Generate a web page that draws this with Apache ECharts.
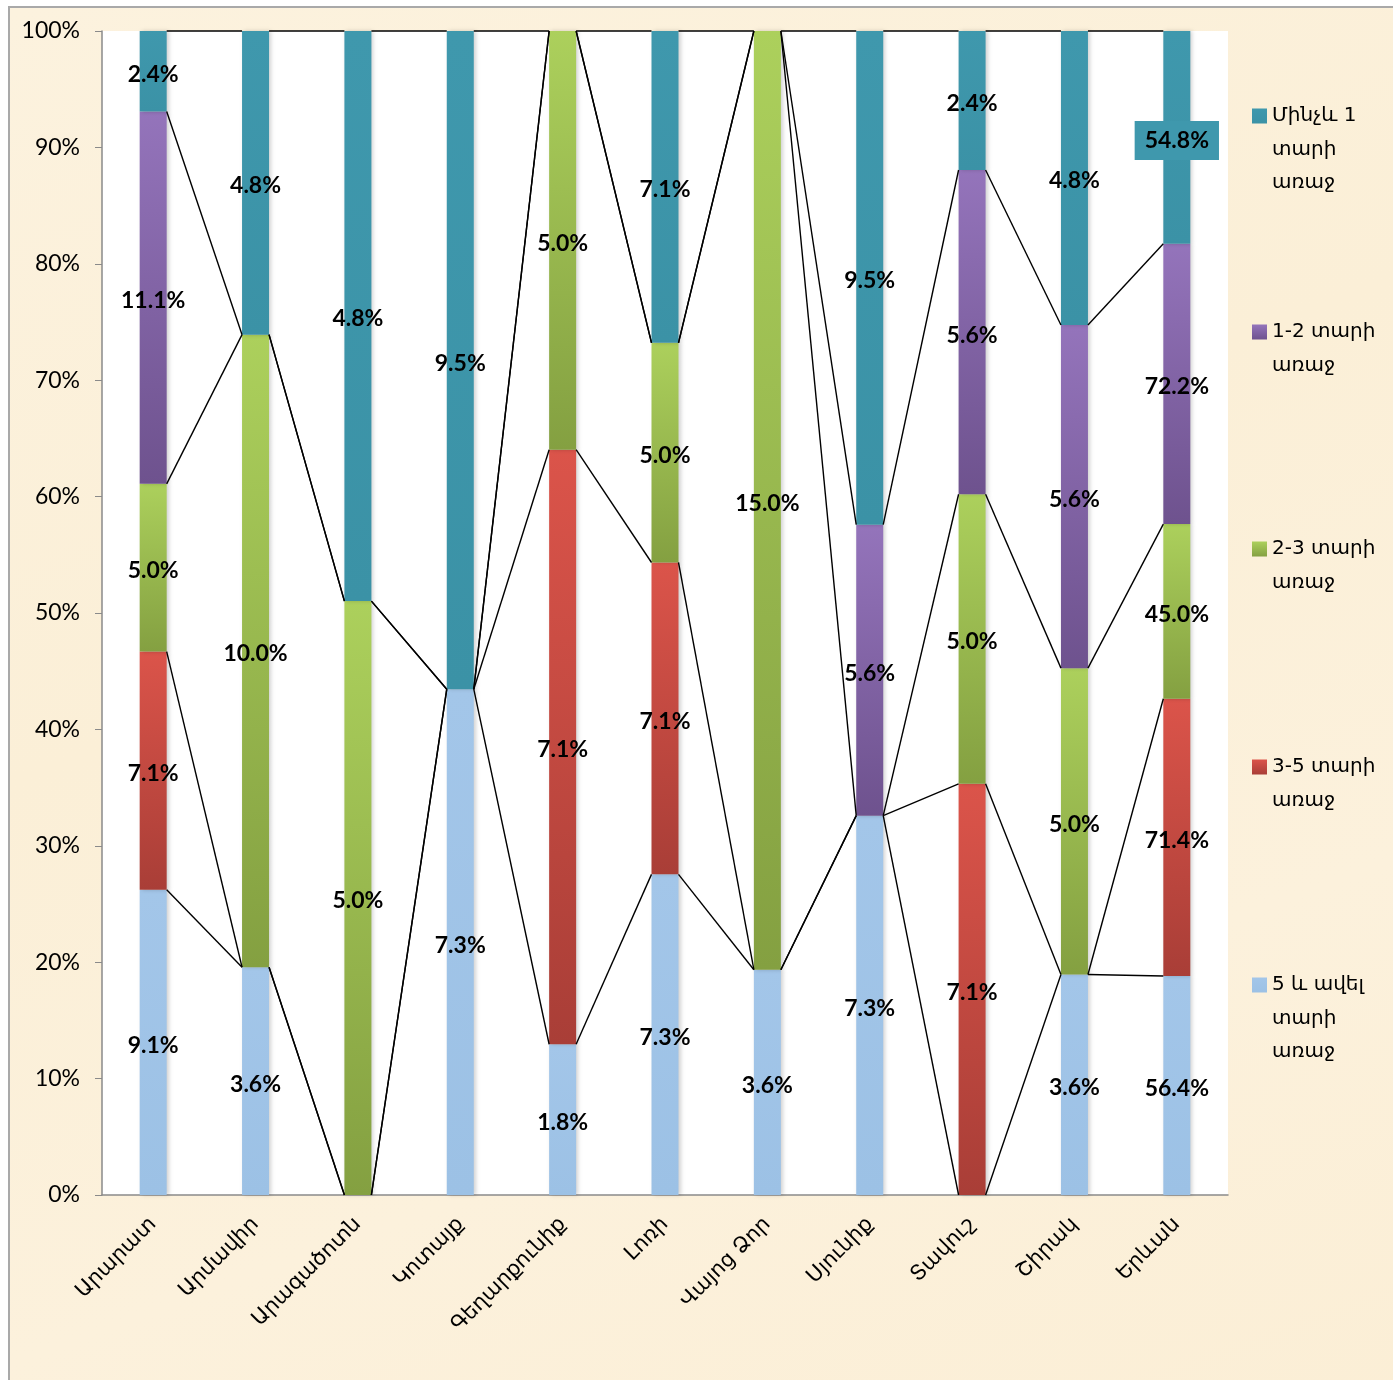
<!DOCTYPE html>
<html>
<head>
<meta charset="utf-8">
<script src="https://cdn.jsdelivr.net/npm/echarts@6/dist/echarts.min.js"></script>
<style>
html,body{margin:0;padding:0;background:#fff;overflow:hidden;}
#frame{position:absolute;left:8px;top:6px;width:1420px;height:1420px;border-left:2px solid #a9a9a9;border-top:2px solid #a9a9a9;
background:linear-gradient(160deg,#fcf2de 0%,#fbefd7 40%,#fcf1dc 70%,#fbeed5 100%);}
#chart{position:absolute;left:0;top:0;width:1393px;height:1380px;}
</style>
</head>
<body>
<div id="frame"></div>
<div id="chart"></div>
<script>
// Categories (regions)
const categories = ['Արարատ','Արմավիր','Արագածոտն','Կոտայք','Գեղարքունիք','Լոռի','Վայոց Ձոր','Սյունիք','Տավուշ','Շիրակ','Երևան'];
// Series names
const seriesNames = ['5 և ավել տարի առաջ','3-5 տարի առաջ','2-3 տարի առաջ','1-2 տարի առաջ','Մինչև 1 տարի առաջ'];
// Raw values (percent labels) per series, bottom to top of each stack
const over5  = [9.1, 3.6, 0,   7.3, 1.8, 7.3, 3.6, 7.3, 0,   3.6, 56.4];
const y3to5  = [7.1, 0,   0,   0,   7.1, 7.1, 0,   0,   7.1, 0,   71.4];
const y2to3  = [5.0, 10.0,5.0, 0,   5.0, 5.0, 15.0,0,   5.0, 5.0, 45.0];
const y1to2  = [11.1,0,   0,   0,   0,   0,   0,   5.6, 5.6, 5.6, 72.2];
const under1 = [2.4, 4.8, 4.8, 9.5, 0,   7.1, 0,   9.5, 2.4, 4.8, 54.8];
// Y-axis ticks
const yTicks = [0,10,20,30,40,50,60,70,80,90,100];

const raws = [over5, y3to5, y2to3, y1to2, under1];
const colors = [
  ['#a3c6e9','#9cc1e5'],
  ['#db544a','#a93e37'],
  ['#acd05c','#84a041'],
  ['#9474bb','#6e528e'],
  ['#3f98ad','#3b92a6']
];
const legendLines = [
  ['5 և ավել','տարի','առաջ'],
  ['3-5 տարի','առաջ'],
  ['2-3 տարի','առաջ'],
  ['1-2 տարի','առաջ'],
  ['Մինչև 1','տարի','առաջ']
];
const legendIconY = [985, 767, 549, 332, 116];

const totals = categories.map((c,i)=>raws.reduce((s,r)=>s+r[i],0));
const shares = raws.map(r=>r.map((v,i)=>v/totals[i]*100));
const cumTops = shares.map((r,s)=>r.map((v,i)=>{let t=0;for(let k=0;k<=s;k++)t+=shares[k][i];return t;}));

const BAR_W = 27;
const series = [];
raws.forEach((r,s)=>{
  series.push({
    name: seriesNames[s],
    type:'bar',
    stack:'total',
    barWidth: BAR_W,
    itemStyle:{
      color: new echarts.graphic.LinearGradient(0,0,0,1,[{offset:0,color:colors[s][0]},{offset:1,color:colors[s][1]}]),
      shadowBlur:4, shadowColor:'rgba(0,0,0,0.18)', shadowOffsetX:2
    },
    label:{
      show:true, position:'inside', offset:[0,3],
      fontFamily:'Lato', fontWeight:'bold', fontSize:23, color:'#000',
      formatter: p => p.data.raw ? p.data.raw.toFixed(1)+'%' : ''
    },
    data: r.map((v,i)=>{
      const d = {value: shares[s][i], raw: v};
      if (s===4 && i===10) d.label = {backgroundColor:'#3f98ad', padding:[9,10,7,10]};
      return d;
    }),
    z:3
  });
});
// series lines between adjacent bars
const lineData = [];
cumTops.forEach((r,s)=>{
  for(let i=0;i<categories.length-1;i++) lineData.push([i, r[i], r[i+1]]);
});
series.push({
  type:'custom', silent:true, z:4,
  renderItem:(params, api)=>{
    const i = api.value(0);
    const p0 = api.coord([i, api.value(1)]);
    const p1 = api.coord([i+1, api.value(2)]);
    const half = BAR_W/2;
    return {type:'line', shape:{x1:p0[0]+half, y1:p0[1], x2:p1[0]-half, y2:p1[1]},
      style:{stroke:'#000', lineWidth:1.4}};
  },
  data: lineData
});

const LH = 33.5;
const legends = seriesNames.map((name,s)=>{
  const n = legendLines[s].length;
  const H = n*LH;
  const y0 = LH/2-7.5, y1 = LH/2+7.5;
  const path = 'path://M0,0L0.01,0L0,0.01Z' +
    'M0,'+y0+'L15,'+y0+'L15,'+y1+'L0,'+y1+'Z' +
    'M14.99,'+H+'L15,'+H+'L15,'+(H-0.01)+'Z';
  return {
    orient:'vertical', left:1252, top: legendIconY[s] - LH/2, padding:0,
    itemWidth:15, itemHeight:H, itemGap:0,
    icon: path,
    data:[{name:name, itemStyle:{color: new echarts.graphic.LinearGradient(0,y0/H,0,y1/H,[{offset:0,color:colors[s][0]},{offset:1,color:colors[s][1]}])}}],
    formatter: ()=>legendLines[s].join('\n'),
    textStyle:{fontFamily:'DejaVu Sans', fontSize:20, color:'#000', lineHeight:LH}
  };
});

const chart = echarts.init(document.getElementById('chart'), null, {renderer:'canvas'});
chart.setOption({
  animation:false,
  backgroundColor:'transparent',
  grid:{left:102, right:165, top:31, bottom:185, show:true, backgroundColor:'#fff', borderWidth:0},
  legend: legends,
  xAxis:{
    type:'category', data:categories,
    axisLine:{lineStyle:{color:'#8a8a8a', width:1.5}},
    axisTick:{show:false},
    axisLabel:{rotate:45, margin:26, padding:[28,0,0,0], fontFamily:'DejaVu Sans', fontSize:21, color:'#000', interval:0}
  },
  yAxis:{
    type:'value', min:yTicks[0], max:yTicks[yTicks.length-1], interval:10,
    axisLine:{show:true, lineStyle:{color:'#8a8a8a', width:1.5}},
    axisTick:{show:true, length:7, lineStyle:{color:'#8a8a8a'}},
    splitLine:{show:false},
    axisLabel:{formatter:'{value}%', fontFamily:'Lato', fontSize:23, color:'#000', margin:22}
  },
  series: series
});
</script>
</body>
</html>
